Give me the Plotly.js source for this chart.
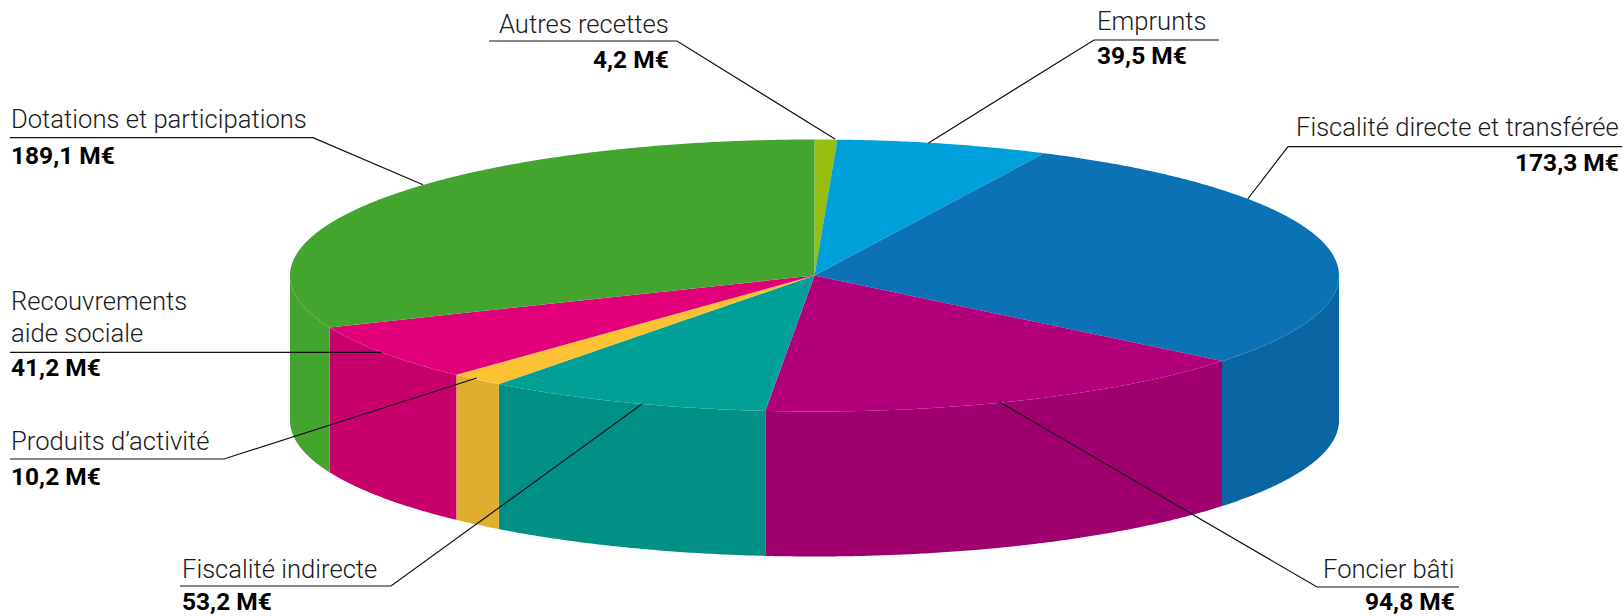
<!DOCTYPE html>
<html><head><meta charset="utf-8">
<script src="https://cdn.plot.ly/plotly-3.0.1.min.js"></script>
<style>html,body{margin:0;padding:0;background:#fff;overflow:hidden}#chart{width:1624px;height:616px}</style>
</head><body><div id="chart"></div>
<script>
// Data, clockwise from 12 o'clock
const categories = ["Autres recettes","Emprunts","Fiscalité directe et transférée","Foncier bâti","Fiscalité indirecte","Produits d’activité","Recouvrements<br>aide sociale","Dotations et participations"];
const values = [4.2,39.5,173.3,94.8,53.2,10.2,41.2,189.1];
const valueLabels = ["4,2 M€","39,5 M€","173,3 M€","94,8 M€","53,2 M€","10,2 M€","41,2 M€","189,1 M€"];
const topColors = ["#96BE0F","#00A0DA","#0B72B5","#B1007A","#00A096","#FDC134","#E2007A","#43A52D"];
const sideColors = ["#96BE0F","#00A0DA","#0A66A3","#A0006D","#009086","#DFAE2F","#C8006B","#43A52D"];

// Projection of the tilted disc, in page pixels
const cx=814.5, cy=275.5, rx=524.5, ry=136, depth=145;
const px=t=>cx+rx*Math.sin(t), py=t=>cy-ry*Math.cos(t);
const D=Math.PI/180;
const total=values.reduce((a,b)=>a+b,0);
let acc=0;
const spans=values.map(v=>{const s=acc/total*2*Math.PI; acc+=v; return [s,acc/total*2*Math.PI];});
function arc(a,b){const n=Math.max(2,Math.ceil((b-a)/(0.4*D)));const o=[];for(let i=0;i<=n;i++)o.push(a+(b-a)*i/n);return o;}

const traces=[];
spans.forEach(([a,b],i)=>{ // side walls (front half only)
  const s=Math.max(a,90*D), e=Math.min(b,270*D);
  if(e<=s) return;
  const th=arc(s,e), rev=th.slice().reverse();
  traces.push({type:"scatter",mode:"none",fill:"toself",fillcolor:sideColors[i],hoverinfo:"skip",name:categories[i]+" (side)",
    x:th.map(px).concat(rev.map(px)),y:th.map(py).concat(rev.map(t=>py(t)+depth))});
});
spans.forEach(([a,b],i)=>{ // top faces
  const th=arc(a,b);
  traces.push({type:"scatter",mode:"none",fill:"toself",fillcolor:topColors[i],hoverinfo:"skip",name:categories[i],
    x:[cx].concat(th.map(px)),y:[cy].concat(th.map(py))});
});

// Label furniture, same order as categories: rule from..elbow at ruleY, leader tip, text anchor and baselines
const labelPlacement=[
 {from:489, elbow:677,  ruleY:41,   tip:[835,139],     anchor:"right",tx:670, lines:[32], val:67.5},
 {from:1219,elbow:1094, ruleY:40,   tip:[928.5,143],   anchor:"left", tx:1096,lines:[29], val:63.5},
 {from:1622,elbow:1288, ruleY:146.7,tip:[1247.7,199],  anchor:"right",tx:1620,lines:[135],val:171},
 {from:1459,elbow:1317, ruleY:587,  tip:[999,401.7],   anchor:"right",tx:1456,lines:[577],val:609.5},
 {from:180, elbow:391,  ruleY:586,  tip:[642,404],     anchor:"left", tx:180.5,lines:[577],val:609.5},
 {from:10,  elbow:224,  ruleY:459,  tip:[476.7,378],   anchor:"left", tx:10, lines:[449.5],val:484.5},
 {from:10,  elbow:381.7,ruleY:352.3,tip:[381.7,352.3], anchor:"left", tx:10, lines:[309.5,341.5],val:376},
 {from:10,  elbow:313,  ruleY:137.7,tip:[423,184.7],   anchor:"left", tx:10, lines:[127],val:163.5}
];
const MID=8.5; // baseline to vertical text-box centre
const annotations=[];
labelPlacement.forEach((p,i)=>{
  traces.push({type:"scatter",mode:"lines",hoverinfo:"skip",name:"leader",line:{color:"#111",width:1.2},
    x:[p.from,p.elbow,p.tip[0]],y:[p.ruleY,p.ruleY,p.tip[1]]});
  categories[i].split("<br>").forEach((t,k)=>annotations.push({xref:"x",yref:"y",x:p.tx,y:p.lines[k]-MID,xanchor:p.anchor,yanchor:"middle",showarrow:false,borderpad:0,
    text:t,font:{family:"Roboto",size:25.6,weight:300,color:"#1a1a1a"}}));
  annotations.push({xref:"x",yref:"y",x:p.tx,y:p.val-MID,xanchor:p.anchor,yanchor:"middle",showarrow:false,borderpad:0,
    text:valueLabels[i],font:{family:"Roboto",size:24.5,weight:700,color:"#000"}});
});

Plotly.newPlot("chart",traces,{
  width:1624,height:616,margin:{l:0,r:0,t:0,b:0},paper_bgcolor:"#fff",plot_bgcolor:"#fff",showlegend:false,
  xaxis:{range:[0,1624],visible:false,fixedrange:true},
  yaxis:{range:[616,0],visible:false,fixedrange:true},
  annotations
},{staticPlot:true,displayModeBar:false});
</script></body></html>
